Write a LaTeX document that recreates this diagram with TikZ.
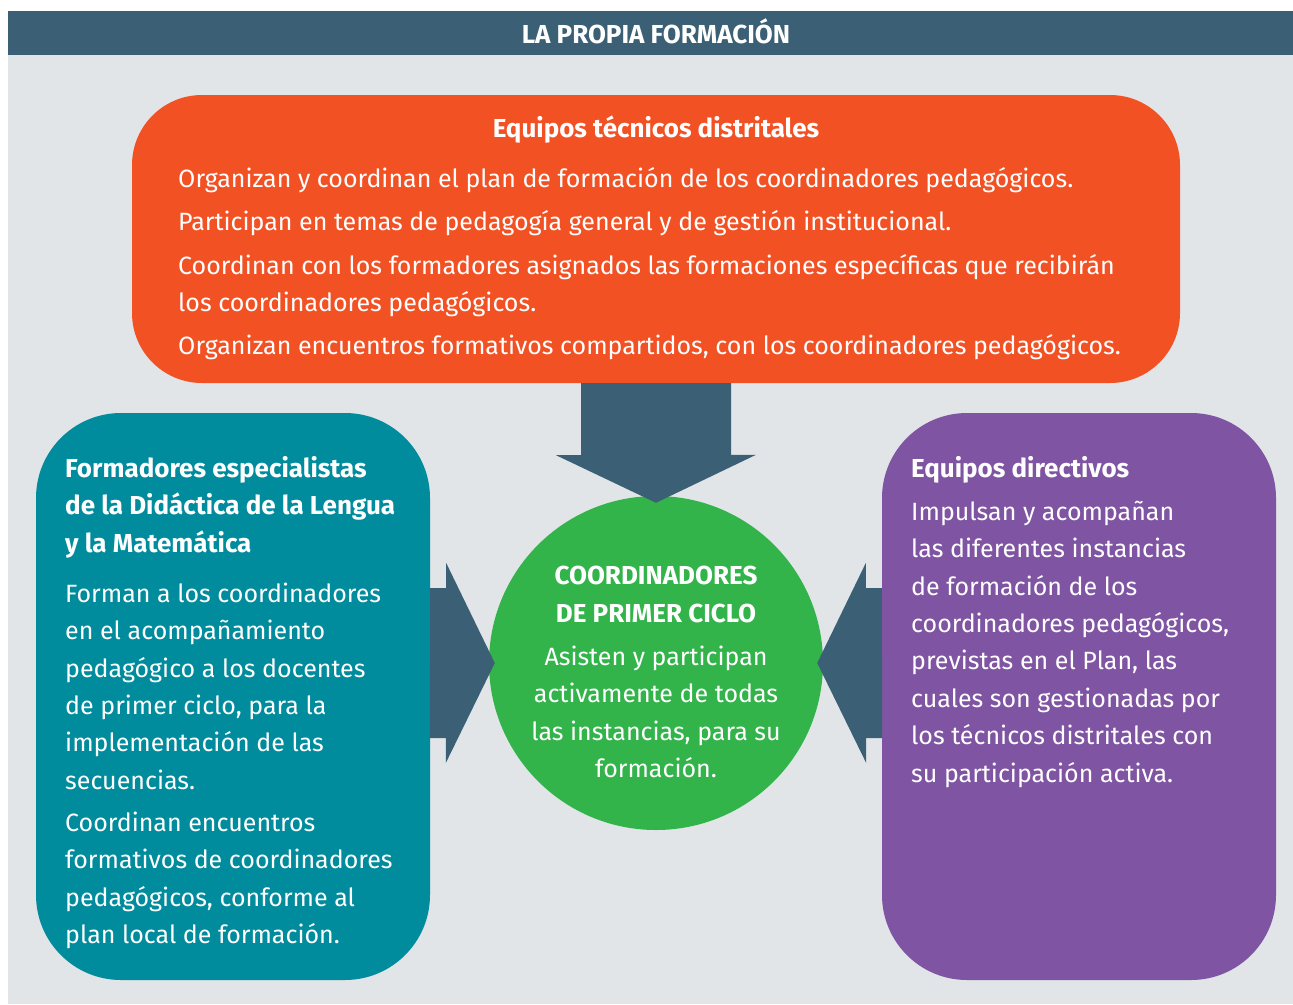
\documentclass[tikz,border=0pt]{standalone}
\usepackage{fontspec}
\setmainfont{Fira Sans}

\definecolor{cabecera}{HTML}{3B6075}
\definecolor{fondo}{HTML}{E1E5E8}
\definecolor{naranja}{HTML}{F25124}
\definecolor{turquesa}{HTML}{008C9D}
\definecolor{morado}{HTML}{7F54A2}
\definecolor{verde}{HTML}{33B44B}

\tikzset{
    caja/.style = {rectangle, rounded corners=85, inner sep=0, minimum width=394, minimum height=567},
    texto/.style = {text=white, inner sep=0, anchor=base west, font=\fontsize{25}{30}\selectfont},
    titulo/.style = {texto, font=\fontsize{26}{30}\selectfont\bfseries},
    flecha/.style = {fill=cabecera}
}

\begin{document}
\begin{tikzpicture}[x = 1pt, y = -1pt]
    \useasboundingbox (0,0) rectangle (1293,1004);
    \fill[fondo] (8,55) rectangle (1293,1004);
    \fill[cabecera] (8,11) rectangle (1293,55);
    \node[titulo, anchor=base, font=\fontsize{26}{30}\selectfont\bfseries] (encabezado) at (656,43) {LA PROPIA FORMACIÓN};

    % cajas
    \node[caja, fill=naranja, rounded corners=70, minimum width=1048, minimum height=288] (tecnicos) at (656,239) {};
    \node[caja, fill=turquesa] (formadores) at (233,696.5) {};
    \node[caja, fill=morado] (directivos) at (1079,696.5) {};
    \node[circle, fill=verde, inner sep=0, minimum size=334] (coord) at (656,663) {};

    % flechas
    \fill[flecha] ([xshift=-75]tecnicos.south) -- ++(0,72) -- ++(-25,0) -- ([yshift=-7]coord.north) -- ++(100,-48) -- ++(-25,0) -- ([xshift=75]tecnicos.south) -- cycle;
    \fill[flecha] (formadores.east |- coord) ++(0,-75) -- ++(16,0) -- ++(0,-25) -- ([xshift=6]coord.west) -- ++(-49,100) -- ++(0,-25) -- ++(-16,0) -- cycle;
    \fill[flecha] (directivos.west |- coord) ++(0,-75) -- ++(-16,0) -- ++(0,-25) -- ([xshift=-6]coord.east) -- ++(49,100) -- ++(0,-25) -- ++(16,0) -- cycle;

    % equipos tecnicos
    \node[titulo, anchor=base] (t0) at (656,137) {Equipos técnicos distritales};
    \foreach \yy/\linea in {187/{Organizan y coordinan el plan de formación de los coordinadores pedagógicos.},
        230/{Participan en temas de pedagogía general y de gestión institucional.},
        274/{Coordinan con los formadores asignados las formaciones específicas que recibirán},
        311/{los coordinadores pedagógicos.},
        354/{Organizan encuentros formativos compartidos, con los coordinadores pedagógicos.}}
        \node[texto] (t\yy) at (178,\yy) {\linea};

    % formadores
    \foreach \yy/\linea in {477/{Formadores especialistas}, 514/{de la Didáctica de la Lengua}, 552/{y la Matemática}}
        \node[titulo] (f\yy) at (65,\yy) {\linea};
    \foreach \yy/\linea in {602/{Forman a los coordinadores}, 639/{en el acompañamiento},
        677/{pedagógico a los docentes}, 714/{de primer ciclo, para la},
        751/{implementación de las}, 789/{secuencias.}, 831/{Coordinan encuentros},
        868/{formativos de coordinadores}, 906/{pedagógicos, conforme al}, 943/{plan local de formación.}}
        \node[texto] (f\yy) at (65,\yy) {\linea};

    % directivos
    \node[titulo] (d0) at (911,477) {Equipos directivos};
    \foreach \yy/\linea in {520/{Impulsan y acompañan}, 557/{las diferentes instancias},
        595/{de formación de los}, 632/{coordinadores pedagógicos,},
        669/{previstas en el Plan, las}, 707/{cuales son gestionadas por},
        744/{los técnicos distritales con}, 782/{su participación activa.}}
        \node[texto] (d\yy) at (911,\yy) {\linea};

    % coordinadores
    \foreach \yy/\linea in {584/{COORDINADORES}, 622/{DE PRIMER CICLO}}
        \node[titulo, anchor=base] (c\yy) at (656,\yy) {\linea};
    \foreach \yy/\linea in {665/{Asisten y participan}, 702/{activamente de todas},
        740/{las instancias, para su}, 777/{formación.}}
        \node[texto, anchor=base] (c\yy) at (656,\yy) {\linea};
\end{tikzpicture}
\end{document}
